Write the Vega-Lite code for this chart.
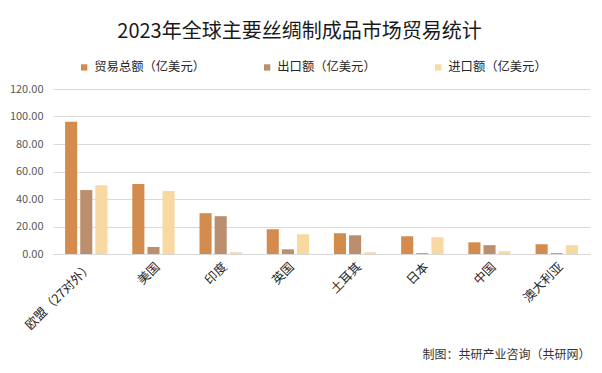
{
  "$schema": "https://vega.github.io/schema/vega-lite/v6.json",
  "autosize": {"type": "none"},
  "width": 537,
  "height": 165,
  "padding": {"left": 53, "top": 89, "right": 12, "bottom": 119},
  "background": "white",
  "config": {
    "font": "Noto Sans CJK SC",
    "view": {"stroke": null}
  },
  "title": {
    "text": "2023年全球主要丝绸制成品市场贸易统计",
    "fontSize": 20,
    "fontWeight": "normal",
    "color": "#1a1a1a",
    "anchor": "middle",
    "dx": -22,
    "offset": 19
  },
  "data": {
    "values": [
      {"region": "欧盟（27对外）", "type": "贸易总额（亿美元）", "value": 96.1},
      {"region": "欧盟（27对外）", "type": "出口额（亿美元）", "value": 46.5},
      {"region": "欧盟（27对外）", "type": "进口额（亿美元）", "value": 50.0},
      {"region": "美国", "type": "贸易总额（亿美元）", "value": 50.9},
      {"region": "美国", "type": "出口额（亿美元）", "value": 5.1},
      {"region": "美国", "type": "进口额（亿美元）", "value": 45.8},
      {"region": "印度", "type": "贸易总额（亿美元）", "value": 29.7},
      {"region": "印度", "type": "出口额（亿美元）", "value": 27.5},
      {"region": "印度", "type": "进口额（亿美元）", "value": 1.3},
      {"region": "英国", "type": "贸易总额（亿美元）", "value": 18.0},
      {"region": "英国", "type": "出口额（亿美元）", "value": 3.4},
      {"region": "英国", "type": "进口额（亿美元）", "value": 14.4},
      {"region": "土耳其", "type": "贸易总额（亿美元）", "value": 15.1},
      {"region": "土耳其", "type": "出口额（亿美元）", "value": 13.6},
      {"region": "土耳其", "type": "进口额（亿美元）", "value": 1.3},
      {"region": "日本", "type": "贸易总额（亿美元）", "value": 12.9},
      {"region": "日本", "type": "出口额（亿美元）", "value": 0.6},
      {"region": "日本", "type": "进口额（亿美元）", "value": 12.2},
      {"region": "中国", "type": "贸易总额（亿美元）", "value": 8.5},
      {"region": "中国", "type": "出口额（亿美元）", "value": 6.4},
      {"region": "中国", "type": "进口额（亿美元）", "value": 2.0},
      {"region": "澳大利亚", "type": "贸易总额（亿美元）", "value": 7.1},
      {"region": "澳大利亚", "type": "出口额（亿美元）", "value": 0.6},
      {"region": "澳大利亚", "type": "进口额（亿美元）", "value": 6.4}
    ]
  },
  "mark": {"type": "bar"},
  "encoding": {
    "x": {
      "field": "region",
      "type": "nominal",
      "sort": null,
      "scale": {"paddingInner": 0.37, "paddingOuter": 0.18},
      "axis": {
        "labelAngle": -45,
        "labelFontSize": 12.5,
        "labelColor": "#262626",
        "labelPadding": 6,
        "ticks": false,
        "domainColor": "#d9d9d9",
        "title": "制图：共研产业咨询（共研网）",
        "titleFontSize": 12,
        "titleFontWeight": "normal",
        "titleColor": "#333333",
        "titleX": 537,
        "titleY": 104,
        "titleAlign": "right",
        "titleBaseline": "alphabetic"
      }
    },
    "xOffset": {
      "field": "type",
      "type": "nominal",
      "sort": ["贸易总额（亿美元）", "出口额（亿美元）", "进口额（亿美元）"],
      "scale": {"paddingInner": 0.2}
    },
    "y": {
      "field": "value",
      "type": "quantitative",
      "scale": {"domain": [0, 120]},
      "axis": {
        "values": [0, 20, 40, 60, 80, 100, 120],
        "format": ".2f",
        "title": null,
        "domain": false,
        "ticks": false,
        "labelFontSize": 11,
        "labelColor": "#595959",
        "labelPadding": 10,
        "gridColor": "#d9d9d9"
      }
    },
    "color": {
      "field": "type",
      "type": "nominal",
      "sort": ["贸易总额（亿美元）", "出口额（亿美元）", "进口额（亿美元）"],
      "scale": {
        "domain": ["贸易总额（亿美元）", "出口额（亿美元）", "进口额（亿美元）"],
        "range": ["#D38C4E", "#BB8E6D", "#F8D9A2"]
      },
      "legend": {
        "orient": "none",
        "legendX": 25,
        "legendY": -28,
        "direction": "horizontal",
        "title": null,
        "columnPadding": 56,
        "symbolType": "square",
        "symbolSize": 40,
        "symbolStrokeWidth": 0,
        "labelOffset": 4,
        "labelFontSize": 12.3,
        "labelColor": "#262626"
      }
    }
  }
}
